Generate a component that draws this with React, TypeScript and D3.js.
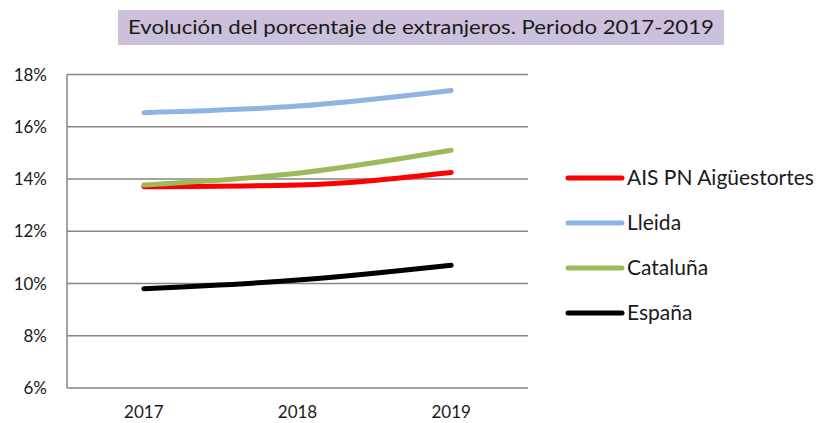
import React, { useRef, useEffect } from "react";
import * as d3 from "d3";

const years = ["2017", "2018", "2019"];
const yTicks = [0.06, 0.08, 0.1, 0.12, 0.14, 0.16, 0.18];

const seriesNames = ["AIS PN Aigüestortes", "Lleida", "Cataluña", "España"];
const seriesColors = ["#FF0000", "#8EB4E3", "#9BBB59", "#000000"];
const aisValues = [0.137, 0.1377, 0.1425];
const lleidaValues = [0.1654, 0.1679, 0.1739];
const catalunaValues = [0.1377, 0.1422, 0.151];
const espanaValues = [0.098, 0.1013, 0.107];

const title = "Evolución del porcentaje de extranjeros. Periodo 2017-2019";

const App = () => {
  const ref = useRef<SVGSVGElement>(null);

  useEffect(() => {
    const svg = d3.select(ref.current);
    svg.selectAll("*").remove();

    const width = 820;
    const height = 423;
    const font = "Lato, 'Open Sans', sans-serif";
    const margin = { left: 67, right: 292, top: 74.5, bottom: 35 };

    const x = d3.scaleBand()
      .domain(years)
      .range([margin.left, width - margin.right]);

    const y = d3.scaleLinear()
      .domain([0.06, 0.18])
      .range([height - margin.bottom, margin.top]);

    // title box
    svg.append("rect")
      .attr("x", 118)
      .attr("y", 10)
      .attr("width", 606)
      .attr("height", 35)
      .attr("fill", "#CCC0DA");

    svg.append("text")
      .attr("x", 421)
      .attr("y", 34)
      .attr("text-anchor", "middle")
      .attr("font-family", font)
      .attr("font-size", "20px")
      .attr("fill", "#1a1a1a")
      .attr("textLength", 586)
      .attr("lengthAdjust", "spacingAndGlyphs")
      .text(title);

    // gridlines
    svg.append("g")
      .selectAll("line")
      .data(yTicks)
      .enter()
      .append("line")
      .attr("x1", margin.left)
      .attr("x2", width - margin.right)
      .attr("y1", (d) => y(d))
      .attr("y2", (d) => y(d))
      .attr("stroke", "#868686")
      .attr("stroke-width", 1.5);

    svg.append("line")
      .attr("x1", margin.left)
      .attr("x2", margin.left)
      .attr("y1", y(0.18))
      .attr("y2", y(0.06))
      .attr("stroke", "#868686")
      .attr("stroke-width", 1.5);

    svg.append("g")
      .selectAll("text")
      .data(yTicks)
      .enter()
      .append("text")
      .attr("x", 47)
      .attr("y", (d) => y(d) + 6)
      .attr("text-anchor", "end")
      .attr("font-family", font)
      .attr("font-size", "17px")
      .attr("fill", "#1a1a1a")
      .text((d) => d3.format(".0%")(d));

    svg.append("g")
      .selectAll("text")
      .data(years)
      .enter()
      .append("text")
      .attr("x", (d) => x(d)! + x.bandwidth() / 2)
      .attr("y", 418)
      .attr("text-anchor", "middle")
      .attr("font-family", font)
      .attr("font-size", "17px")
      .attr("fill", "#1a1a1a")
      .text((d) => d);

    const allValues = [aisValues, lleidaValues, catalunaValues, espanaValues];

    const line = d3.line<number>()
      .x((d, i) => x(years[i])! + x.bandwidth() / 2)
      .y((d) => y(d))
      .curve(d3.curveMonotoneX);

    // AIS drawn before Cataluña so green sits on top at 2017
    const order = [3, 0, 1, 2];
    order.forEach((k) => {
      svg.append("path")
        .attr("d", line(allValues[k]))
        .attr("fill", "none")
        .attr("stroke", seriesColors[k])
        .attr("stroke-width", 5)
        .attr("stroke-linecap", "round");
    });

    // legend
    const legend = svg.append("g");
    seriesNames.forEach((name, i) => {
      const ly = 178 + i * 45;
      legend.append("line")
        .attr("x1", 568)
        .attr("x2", 622)
        .attr("y1", ly)
        .attr("y2", ly)
        .attr("stroke", seriesColors[i])
        .attr("stroke-width", 5)
        .attr("stroke-linecap", "round");
      legend.append("text")
        .attr("x", 627)
        .attr("y", ly + 7)
        .attr("font-family", font)
        .attr("font-size", "21px")
        .attr("fill", "#1a1a1a")
        .text(name);
    });
  }, []);

  return (
    <svg ref={ref} width={820} height={423} style={{ position: "absolute", left: 0, top: 0, background: "#fff" }}></svg>
  );
};

export default App;
